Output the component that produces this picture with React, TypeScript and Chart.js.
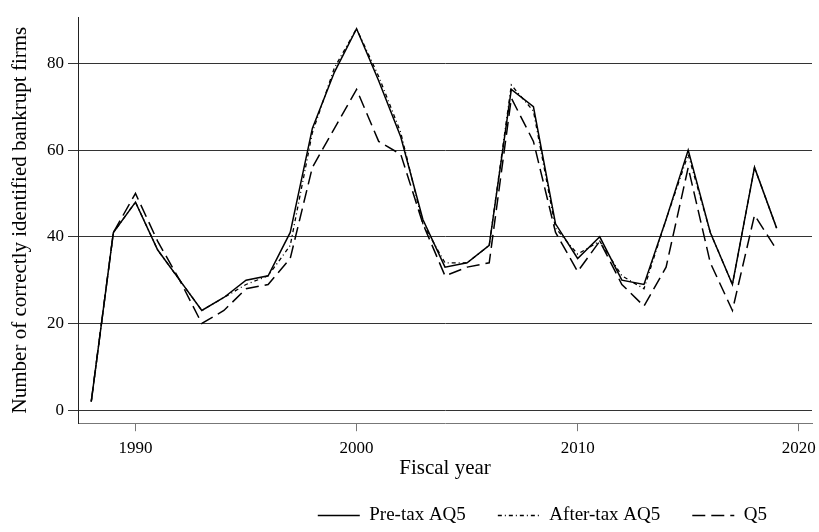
import React, { useEffect, useRef } from 'react';
import { Chart, registerables } from 'chart.js';

Chart.register(...registerables);

const years = [1988, 1989, 1990, 1991, 1992, 1993, 1994, 1995, 1996, 1997, 1998, 1999, 2000, 2001, 2002, 2003, 2004, 2005, 2006, 2007, 2008, 2009, 2010, 2011, 2012, 2013, 2014, 2015, 2016, 2017, 2018, 2019];
const preTax = [2, 41, 48, 37, 30, 23, 26, 30, 31, 41, 65, 78, 88, 76, 63, 44, 33, 34, 38, 74, 70, 43, 35, 40, 30, 29, 44, 60, 41, 29, 56, 42];
const afterTax = [2, 41, 48, 37, 30, 23, 26, 29, 31, 38, 64, 79, 88, 77, 64, 43, 34, 34, 38, 75, 69, 42, 36, 39, 31, 28, 44, 59, 41, 29, 56, 42];
const q5 = [2, 41, 50, 39, 30, 20, 23, 28, 29, 35, 56, 65, 74, 62, 59, 43, 31, 33, 34, 72, 62, 41, 32, 39, 29, 24, 33, 56, 34, 23, 45, 37];

const xTicks = [1990, 2000, 2010, 2020];
const yTicks = [0, 20, 40, 60, 80];

const FONT = "'Liberation Serif', 'Times New Roman', serif";

const legendShift = {
  id: 'legendShift',
  afterLayout(chart: any) {
    const l = chart.legend;
    if (l) {
      l.left -= 13;
      l.right -= 13;
    }
  },
};

export default function App() {
  const ref = useRef<HTMLCanvasElement>(null);
  useEffect(() => {
    const toPts = (arr: number[]) => years.map((yr, i) => ({ x: yr, y: arr[i] }));
    const defaultGen = (Chart.defaults as any).plugins.legend.labels.generateLabels;
    const chart = new Chart(ref.current!, {
      type: 'line',
      data: {
        datasets: [
          { label: 'Pre-tax AQ5', data: toPts(preTax), borderColor: '#000', backgroundColor: '#000', borderWidth: 1.5, borderDash: [], pointRadius: 0, tension: 0, fill: false },
          { label: 'After-tax AQ5', data: toPts(afterTax), borderColor: '#000', backgroundColor: '#000', borderWidth: 1.3, borderDash: [4, 3, 1, 3], pointRadius: 0, tension: 0, fill: false },
          { label: 'Q5', data: toPts(q5), borderColor: '#000', backgroundColor: '#000', borderWidth: 1.5, borderDash: [13, 6], pointRadius: 0, tension: 0, fill: false },
        ],
      },
      plugins: [legendShift],
      options: {
        animation: false,
        responsive: true,
        maintainAspectRatio: false,
        layout: { padding: { top: 17, right: 7, left: 10, bottom: -3 } },
        scales: {
          x: {
            type: 'linear',
            min: 1987.4,
            max: 2020.6,
            afterBuildTicks: (s: any) => { s.ticks = xTicks.map((v) => ({ value: v })); },
            afterFit: (s: any) => { s.paddingRight = 0; s.paddingLeft = 0; },
            grid: { drawOnChartArea: false, drawTicks: true, tickLength: 8, color: '#777' },
            border: { color: '#777', width: 1 },
            ticks: { font: { family: FONT, size: 17, lineHeight: 1 }, color: '#000', padding: 9, maxRotation: 0, autoSkip: false, callback: (v: any) => String(v) },
            title: { display: true, text: 'Fiscal year', font: { family: FONT, size: 21, lineHeight: 0.8 }, color: '#000', padding: { top: -6, bottom: -3 } },
          },
          y: {
            min: -3,
            max: 90.7,
            afterBuildTicks: (s: any) => { s.ticks = yTicks.map((v) => ({ value: v })); },
            grid: { color: '#333', tickLength: 10, lineWidth: 1 },
            border: { color: '#222', width: 1 },
            ticks: { font: { family: FONT, size: 17 }, color: '#000', padding: 4, autoSkip: false, callback: (v: any) => String(v) },
            title: { display: true, text: 'Number of correctly identified bankrupt firms', font: { family: FONT, size: 21, lineHeight: 1 }, color: '#000', padding: { top: 0, bottom: 12 } },
          },
        },
        plugins: {
          legend: {
            position: 'bottom',
            align: 'end',
            labels: {
              usePointStyle: true,
              pointStyle: 'line',
              pointStyleWidth: 42,
              font: { family: FONT, size: 19 },
              color: '#000',
              padding: 32,
              generateLabels: (c: any) => {
                const items = defaultGen(c);
                items.forEach((it: any) => {
                  const ds = c.data.datasets[it.datasetIndex];
                  it.lineDash = ds.borderDash || [];
                  it.lineWidth = ds.borderWidth;
                  it.strokeStyle = '#000';
                });
                return items;
              },
            },
          },
          tooltip: { enabled: false },
        },
      },
    });
    return () => chart.destroy();
  }, []);
  return (
    <div style={{ position: 'absolute', left: 0, top: 0, width: 819, height: 532 }}>
      <canvas ref={ref} />
    </div>
  );
}
